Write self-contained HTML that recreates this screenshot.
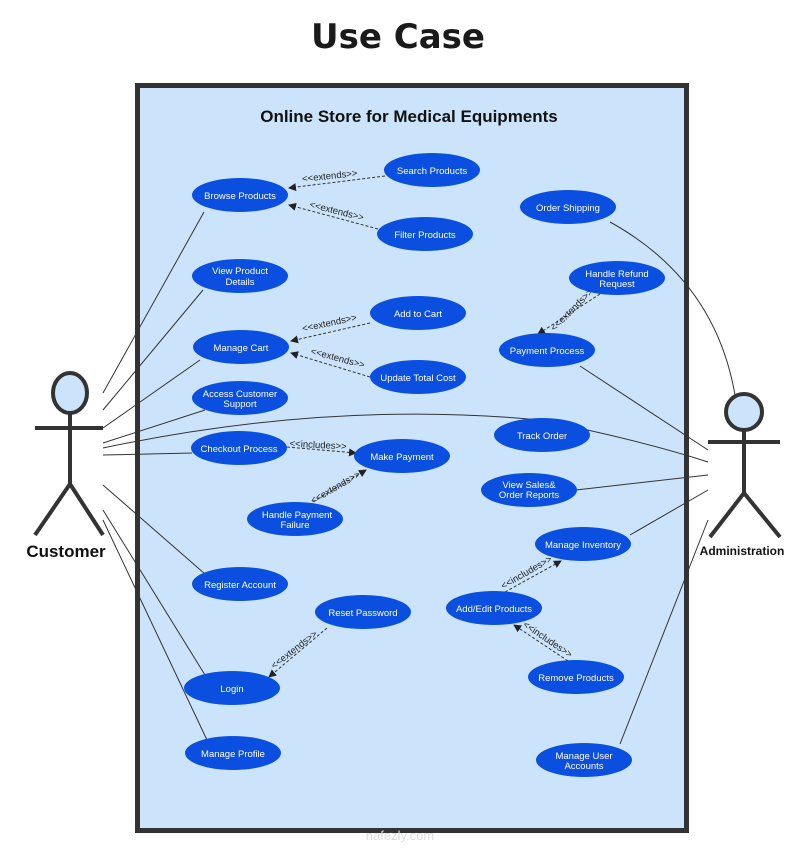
<!DOCTYPE html>
<html><head><meta charset="utf-8"><style>
body{margin:0;background:#fff;width:802px;height:844px;overflow:hidden;font-family:"Liberation Sans",sans-serif}
</style></head><body>
<svg width="802" height="844" viewBox="0 0 802 844" xmlns="http://www.w3.org/2000/svg" font-family="Liberation Sans, sans-serif">
<defs><marker id="a" markerWidth="8" markerHeight="8" refX="7" refY="4" orient="auto"><path d="M0,0 L8,4 L0,8 z" fill="#222"/></marker></defs>
<text x="398" y="48" text-anchor="middle" font-size="34" font-weight="bold" fill="#1a1a1a" font-family="DejaVu Sans, sans-serif">Use Case</text>
<rect x="137.5" y="85.5" width="549" height="745" fill="#cce4fb" stroke="#333" stroke-width="5"/>
<text x="409" y="122" text-anchor="middle" font-size="17" font-weight="bold" fill="#111">Online Store for Medical Equipments</text>
<g stroke="#333" stroke-width="1" fill="none">
<line x1="103" y1="393" x2="204" y2="212"/>
<line x1="103" y1="410" x2="203" y2="290"/>
<line x1="103" y1="428" x2="200" y2="360"/>
<line x1="103" y1="443" x2="205" y2="410"/>
<path d="M103,448 Q330,400 540,420 Q640,440 708,462"/>
<line x1="103" y1="455" x2="192" y2="453"/>
<line x1="103" y1="485" x2="205" y2="574"/>
<line x1="103" y1="510" x2="205" y2="675"/>
<line x1="103" y1="520" x2="207" y2="740"/>
<path d="M610,222 Q715,280 735,395"/>
<line x1="580" y1="366" x2="708" y2="450"/>
<line x1="576" y1="490" x2="708" y2="475"/>
<line x1="630" y1="535" x2="708" y2="490"/>
<line x1="620" y1="744" x2="708" y2="520"/>
</g>
<g stroke="#333" stroke-width="1" fill="none" stroke-dasharray="3,2" marker-end="url(#a)">
<line x1="385" y1="176" x2="289" y2="188"/>
<line x1="378" y1="229" x2="289" y2="205"/>
<line x1="370" y1="323" x2="291" y2="341"/>
<line x1="370" y1="377" x2="291" y2="353"/>
<line x1="287" y1="447" x2="356" y2="453"/>
<line x1="313" y1="502" x2="366" y2="470"/>
<line x1="600" y1="294" x2="538" y2="334"/>
<line x1="327" y1="628" x2="269" y2="677"/>
<line x1="505" y1="592" x2="561" y2="561"/>
<line x1="568" y1="661" x2="514" y2="625"/>
</g>
<g font-size="9.5" fill="#222">
<text x="330" y="179" transform="rotate(-6 330 179)" text-anchor="middle">&lt;&lt;extends&gt;&gt;</text>
<text x="336" y="214" transform="rotate(14 336 214)" text-anchor="middle">&lt;&lt;extends&gt;&gt;</text>
<text x="330" y="326" transform="rotate(-12 330 326)" text-anchor="middle">&lt;&lt;extends&gt;&gt;</text>
<text x="337" y="361" transform="rotate(15 337 361)" text-anchor="middle">&lt;&lt;extends&gt;&gt;</text>
<text x="318" y="448" transform="rotate(3 318 448)" text-anchor="middle">&lt;&lt;includes&gt;&gt;</text>
<text x="337" y="490" transform="rotate(-30 337 490)" text-anchor="middle">&lt;&lt;extends&gt;&gt;</text>
<text x="574" y="312" transform="rotate(-45 574 312)" text-anchor="middle">&lt;&lt;extends&gt;&gt;</text>
<text x="296" y="652" transform="rotate(-38 296 652)" text-anchor="middle">&lt;&lt;extends&gt;&gt;</text>
<text x="528" y="575" transform="rotate(-30 528 575)" text-anchor="middle">&lt;&lt;includes&gt;&gt;</text>
<text x="546" y="642" transform="rotate(34 546 642)" text-anchor="middle">&lt;&lt;includes&gt;&gt;</text>
</g>
<g fill="#0b4fe0">
<ellipse cx="240" cy="195" rx="48" ry="17"/><ellipse cx="432" cy="170" rx="48" ry="17"/>
<ellipse cx="425" cy="234" rx="48" ry="17"/><ellipse cx="240" cy="276" rx="48" ry="17"/>
<ellipse cx="241" cy="347" rx="48" ry="17"/><ellipse cx="418" cy="313" rx="48" ry="17"/>
<ellipse cx="418" cy="377" rx="48" ry="17"/><ellipse cx="240" cy="398" rx="48" ry="17"/>
<ellipse cx="239" cy="448" rx="48" ry="17"/><ellipse cx="402" cy="456" rx="48" ry="17"/>
<ellipse cx="295" cy="519" rx="48" ry="17"/><ellipse cx="240" cy="584" rx="48" ry="17"/>
<ellipse cx="363" cy="612" rx="48" ry="17"/><ellipse cx="232" cy="688" rx="48" ry="17"/>
<ellipse cx="233" cy="753" rx="48" ry="17"/><ellipse cx="568" cy="207" rx="48" ry="17"/>
<ellipse cx="617" cy="278" rx="48" ry="17"/><ellipse cx="547" cy="350" rx="48" ry="17"/>
<ellipse cx="542" cy="435" rx="48" ry="17"/><ellipse cx="529" cy="490" rx="48" ry="17"/>
<ellipse cx="583" cy="544" rx="48" ry="17"/><ellipse cx="494" cy="608" rx="48" ry="17"/>
<ellipse cx="576" cy="677" rx="48" ry="17"/><ellipse cx="584" cy="760" rx="48" ry="17"/>
</g>
<g fill="#fff" font-size="9.5" text-anchor="middle">
<text x="240" y="199">Browse Products</text><text x="432" y="174">Search Products</text>
<text x="425" y="238">Filter Products</text>
<text x="240" y="274">View Product</text><text x="240" y="285">Details</text>
<text x="241" y="351">Manage Cart</text><text x="418" y="317">Add to Cart</text>
<text x="418" y="381">Update Total Cost</text>
<text x="240" y="397">Access Customer</text><text x="240" y="407">Support</text>
<text x="239" y="452">Checkout Process</text><text x="402" y="460">Make Payment</text>
<text x="297" y="518">Handle Payment</text><text x="295" y="528">Failure</text>
<text x="240" y="588">Register Account</text><text x="363" y="616">Reset Password</text>
<text x="232" y="692">Login</text><text x="233" y="757">Manage Profile</text>
<text x="568" y="211">Order Shipping</text>
<text x="617" y="277">Handle Refund</text><text x="617" y="287">Request</text>
<text x="547" y="354">Payment Process</text><text x="542" y="439">Track Order</text>
<text x="529" y="488">View Sales&amp;</text><text x="529" y="498">Order Reports</text>
<text x="583" y="548">Manage Inventory</text><text x="494" y="612">Add/Edit Products</text>
<text x="576" y="681">Remove Products</text>
<text x="584" y="759">Manage User</text><text x="584" y="769">Accounts</text>
</g>
<g stroke="#333" stroke-width="4" fill="none">
<ellipse cx="70" cy="393" rx="17" ry="20" fill="#cce4fb"/>
<line x1="70" y1="413" x2="70" y2="484"/><line x1="35" y1="428" x2="103" y2="428"/>
<line x1="70" y1="484" x2="35" y2="535"/><line x1="70" y1="484" x2="103" y2="535"/>
<ellipse cx="744" cy="412" rx="18" ry="18" fill="#cce4fb"/>
<line x1="744" y1="430" x2="744" y2="493"/><line x1="708" y1="442" x2="780" y2="442"/>
<line x1="744" y1="493" x2="710" y2="537"/><line x1="744" y1="493" x2="780" y2="537"/>
</g>
<text x="66" y="557" text-anchor="middle" font-size="17" font-weight="bold" fill="#111">Customer</text>
<text x="742" y="555" text-anchor="middle" font-size="12" font-weight="bold" fill="#111">Administration</text>
<text x="400" y="840" text-anchor="middle" font-size="13" fill="#ddd">nafezly.com</text>
</svg>
</body></html>
